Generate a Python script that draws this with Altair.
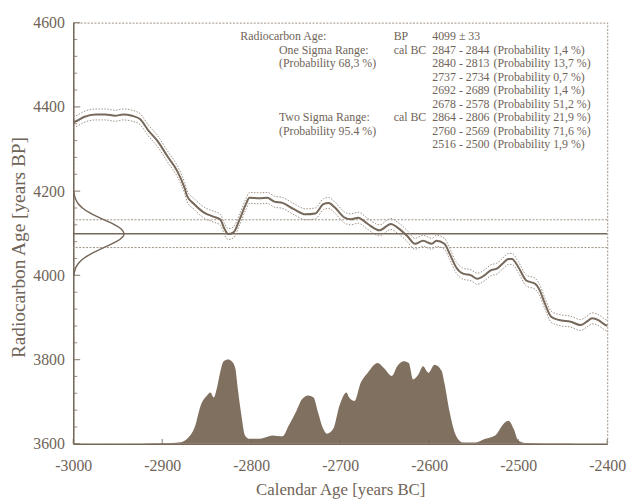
import altair as alt
import pandas as pd

# ---------------- data ----------------
CURVE_YEARS = [-3000, -2997, -2988, -2975, -2964, -2953, -2944, -2934, -2925, -2916, -2905,
               -2894, -2883, -2875, -2872, -2864, -2853, -2842, -2835, -2830, -2826, -2820,
               -2813, -2806, -2802, -2791, -2782, -2774, -2765, -2752, -2739, -2728, -2719,
               -2713, -2706, -2695, -2688, -2680, -2669, -2656, -2643, -2636, -2625, -2616,
               -2607, -2597, -2592, -2583, -2577, -2570, -2562, -2553, -2546, -2538, -2531,
               -2524, -2518, -2511, -2507, -2500, -2491, -2481, -2476, -2470, -2463, -2454,
               -2441, -2430, -2423, -2417, -2410, -2404, -2400]
CURVE_BP = [4364, 4366, 4376, 4382, 4382, 4379, 4382, 4379, 4371, 4345, 4318,
            4282, 4247, 4208, 4188, 4169, 4149, 4139, 4133, 4110, 4098, 4102,
            4133, 4169, 4184, 4183, 4184, 4175, 4172, 4157, 4145, 4147, 4169,
            4172, 4161, 4137, 4133, 4137, 4122, 4107, 4122, 4114, 4094, 4075,
            4082, 4075, 4082, 4075, 4051, 4020, 4004, 4000, 3992, 4000, 4012,
            4016, 4027, 4039, 4039, 4020, 3988, 3980, 3965, 3933, 3902, 3894,
            3890, 3882, 3890, 3898, 3894, 3885, 3880]
CURVE_SIGMA = 13

MEAN_BP = 4099
ERR_BP = 33

GAUSS_BP = [4000, 4010, 4020, 4030, 4040, 4050, 4060, 4070, 4080, 4090, 4099,
            4110, 4120, 4130, 4140, 4150, 4160, 4170, 4180, 4190, 4200]
GAUSS_YEARS = [-2999.4, -2998.5, -2996.8, -2993.6, -2988.5, -2981.1, -2971.6, -2961.3,
               -2951.7, -2945.1, -2943.0, -2946.1, -2953.4, -2963.3, -2973.7, -2982.7,
               -2989.7, -2994.4, -2997.2, -2998.7, -2999.5]

PROB_YEARS = [-2920, -2890, -2879, -2872, -2863, -2857, -2850, -2846, -2842, -2839, -2835,
              -2831, -2826, -2822, -2818, -2815, -2811, -2807, -2802, -2791, -2780, -2776,
              -2765, -2758, -2750, -2743, -2736, -2730, -2725, -2719, -2715, -2708, -2701,
              -2693, -2690, -2684, -2677, -2669, -2658, -2651, -2642, -2636, -2629, -2623,
              -2618, -2612, -2607, -2601, -2594, -2586, -2583, -2577, -2570, -2562, -2548,
              -2537, -2526, -2515, -2511, -2505, -2500, -2492, -2470, -2440]
PROB_BP = [3601, 3602, 3604, 3612, 3643, 3690, 3714, 3722, 3710, 3729, 3769,
           3796, 3800, 3796, 3780, 3729, 3667, 3620, 3612, 3612, 3618, 3620,
           3618, 3643, 3675, 3706, 3715, 3710, 3675, 3635, 3624, 3635, 3690,
           3722, 3710, 3702, 3745, 3769, 3792, 3780, 3761, 3784, 3796, 3792,
           3753, 3765, 3784, 3769, 3788, 3773, 3745, 3675, 3620, 3603, 3603,
           3612, 3620, 3651, 3655, 3635, 3608, 3602, 3601, 3601]

X_TICKS = [-3000, -2900, -2800, -2700, -2600, -2500, -2400]
Y_MAJOR = [3600, 3800, 4000, 4200, 4400, 4600]
Y_MINOR = [3640, 3680, 3720, 3760, 3840, 3880, 3920, 3960, 4040, 4080, 4120, 4160,
           4240, 4280, 4320, 4360, 4440, 4480, 4520, 4560]

TEXT_A = {0: "Radiocarbon Age:"}
TEXT_B = {1: "One Sigma Range:", 2: "(Probability 68,3 %)",
          6: "Two Sigma Range:", 7: "(Probability 95.4 %)"}
TEXT_C = {0: "BP", 1: "cal BC", 6: "cal BC"}
TEXT_D = {0: "4099 ± 33", 1: "2847 - 2844", 2: "2840 - 2813", 3: "2737 - 2734",
          4: "2692 - 2689", 5: "2678 - 2578", 6: "2864 - 2806", 7: "2760 - 2569",
          8: "2516 - 2500"}
TEXT_E = {1: "(Probability 1,4 %)", 2: "(Probability 13,7 %)", 3: "(Probability 0,7 %)",
          4: "(Probability 1,4 %)", 5: "(Probability 51,2 %)", 6: "(Probability 21,9 %)",
          7: "(Probability 71,6 %)", 8: "(Probability 1,9 %)"}

# ---------------- styling ----------------
W, H = 540, 426
FONT = "Liberation Serif"
INK = "#76685a"
FILL = "#807060"
DOT = "#9d9185"
TXT = "#6f6458"

xs = alt.Scale(domain=[-3000, -2400], nice=False, zero=False)
ys = alt.Scale(domain=[3600, 4600], nice=False, zero=False)

x_axis = alt.Axis(values=X_TICKS, labelExpr="'' + datum.value", ticks=False, tickSize=0,
                  labelPadding=14, labelFont=FONT, labelFontSize=16, labelColor=TXT,
                  labelFlush=False, grid=False, domainColor=INK, domainWidth=1.5,
                  title="Calendar Age [years BC]", titleFont=FONT, titleFontSize=17,
                  titleFontWeight="normal", titleColor=TXT, titleBaseline="alphabetic",
                  titleY=51)
y_axis = alt.Axis(values=Y_MAJOR, labelExpr="'' + datum.value", ticks=False, tickSize=0,
                  labelPadding=9, labelFont=FONT, labelFontSize=16, labelColor=TXT,
                  labelFlush=False, grid=False, domainColor=INK, domainWidth=1.5,
                  title="Radiocarbon Age [years BP]", titleFont=FONT, titleFontSize=19.5,
                  titleFontWeight="normal", titleColor=TXT, titleBaseline="alphabetic",
                  titleAngle=270, titleX=-49, titleY=227, titleAlign="center")


def X(field="year"):
    return alt.X(f"{field}:Q", scale=xs, axis=x_axis)


def Y(field="bp"):
    return alt.Y(f"{field}:Q", scale=ys, axis=y_axis)


curve_df = pd.DataFrame({"year": CURVE_YEARS, "bp": CURVE_BP})
prob_df = pd.DataFrame({"year": PROB_YEARS, "bp": PROB_BP})
gauss_df = pd.DataFrame({"year": GAUSS_YEARS, "bp": GAUSS_BP})
mean_df = pd.DataFrame({"bp": [MEAN_BP]})
err_df = pd.DataFrame({"bp": [MEAN_BP - ERR_BP, MEAN_BP + ERR_BP]})

prob = alt.Chart(prob_df).mark_area(color=FILL, interpolate="monotone", opacity=1).encode(
    x=X(), y=Y(), y2=alt.Y2Datum(3600))

mean_rule = alt.Chart(mean_df).mark_rule(color=INK, strokeWidth=1.6).encode(y=Y())
err_rule = alt.Chart(err_df).mark_rule(color=DOT, strokeWidth=1, strokeDash=[2, 1.5]).encode(y=Y())

band_hi = alt.Chart(curve_df).transform_calculate(
    bp2=f"datum.bp + {CURVE_SIGMA}").mark_line(
    color=DOT, strokeWidth=1, strokeDash=[1.5, 1.5], interpolate="monotone").encode(
    x=X(), y=Y("bp2"))
band_lo = alt.Chart(curve_df).transform_calculate(
    bp2=f"datum.bp - {CURVE_SIGMA}").mark_line(
    color=DOT, strokeWidth=1, strokeDash=[1.5, 1.5], interpolate="monotone").encode(
    x=X(), y=Y("bp2"))
curve = alt.Chart(curve_df).mark_line(color=INK, strokeWidth=2, interpolate="monotone").encode(
    x=X(), y=Y())

gauss = alt.Chart(gauss_df).mark_line(color=INK, strokeWidth=1.5, interpolate="cardinal").encode(
    x=X(), y=Y(), order=alt.Order("bp:Q"))

ytick_major = alt.Chart(pd.DataFrame({"bp": Y_MAJOR})).mark_tick(
    orient="horizontal", color=INK, thickness=1.3).encode(
    y=Y(), x=alt.value(3.5), size=alt.value(7))
ytick_minor = alt.Chart(pd.DataFrame({"bp": Y_MINOR})).mark_tick(
    orient="horizontal", color=INK, thickness=1.1).encode(
    y=Y(), x=alt.value(2), size=alt.value(4))
xtick = alt.Chart(pd.DataFrame({"year": X_TICKS})).mark_tick(
    orient="vertical", color=INK, thickness=1.3).encode(
    x=X(), y=alt.value(H - 2.5), size=alt.value(5))

layers = [prob, err_rule, mean_rule, band_hi, band_lo, curve, gauss,
          ytick_major, ytick_minor, xtick]

COL_X = [169, 208, 324, 363, 425]
ROW_Y0, ROW_DY = 14, 13.65
for cx, col in zip(COL_X, [TEXT_A, TEXT_B, TEXT_C, TEXT_D, TEXT_E]):
    for row, txt in col.items():
        layers.append(
            alt.Chart(pd.DataFrame({"t": [txt]})).mark_text(
                font=FONT, fontSize=12, color=TXT, align="left", baseline="middle").encode(
                text="t:N", x=alt.value(cx), y=alt.value(ROW_Y0 + ROW_DY * row)))

chart = alt.layer(*layers).properties(
    width=W, height=H,
    padding={"left": 66, "top": 12, "right": 20, "bottom": 56},
    autosize=alt.AutoSizeParams(type="none"),
    background="white",
).configure_view(stroke=DOT, strokeDash=[2, 1.5], strokeWidth=1)

chart.save("out.html", embed_options={"renderer": "svg", "actions": False})
